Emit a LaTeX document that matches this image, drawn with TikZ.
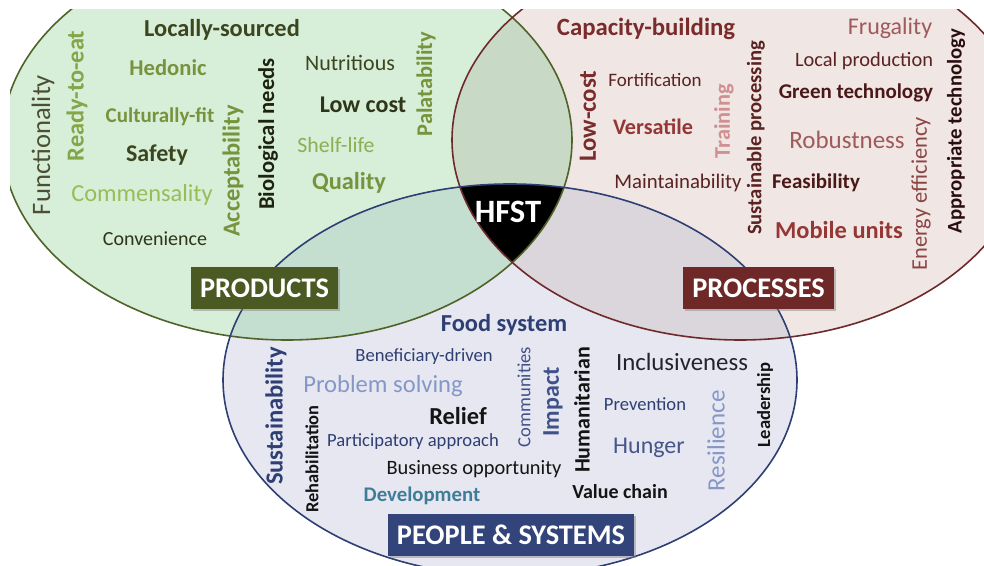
\documentclass[tikz,border=0pt]{standalone}
\usepackage{fontspec}
\setmainfont{Carlito}
\usetikzlibrary{positioning,shadows}

\definecolor{prodfill}{HTML}{D7EED9}
\definecolor{procfill}{HTML}{F0E6E4}
\definecolor{pplfill}{HTML}{E7E7F2}
\definecolor{prodproc}{HTML}{C8D9C5}
\definecolor{prodppl}{HTML}{C4DED0}
\definecolor{procppl}{HTML}{DBD6DB}
\definecolor{prodline}{HTML}{4F6228}
\definecolor{procline}{HTML}{6E2A2A}
\definecolor{pplline}{HTML}{2E3F73}
\definecolor{prodbox}{HTML}{4B5A23}
\definecolor{procbox}{HTML}{6E2828}
\definecolor{pplbox}{HTML}{32447A}
\definecolor{gGray}{HTML}{4B5032}
\definecolor{gDark}{HTML}{3C461E}
\definecolor{gDeep}{HTML}{2E3518}
\definecolor{gBlack}{HTML}{1E230F}
\definecolor{gMid}{HTML}{77933C}
\definecolor{gMidL}{HTML}{86A548}
\definecolor{gLight}{HTML}{9BBB59}
\definecolor{gLightM}{HTML}{8DAE52}
\definecolor{rDark}{HTML}{7A2B2B}
\definecolor{rRed}{HTML}{953735}
\definecolor{rBrown}{HTML}{5A2222}
\definecolor{rDeep}{HTML}{4A1818}
\definecolor{rBlack}{HTML}{2A0E0E}
\definecolor{rRose}{HTML}{A05A5A}
\definecolor{rMuted}{HTML}{8B4545}
\definecolor{rPale}{HTML}{D09090}
\definecolor{bNavy}{HTML}{2E3F73}
\definecolor{bMid}{HTML}{3F5188}
\definecolor{bGray}{HTML}{45558A}
\definecolor{bLight}{HTML}{8497C6}
\definecolor{bTeal}{HTML}{3E7D98}
\definecolor{bBlack}{HTML}{141414}
\definecolor{bInk}{HTML}{23232D}

\newcommand{\fsz}[1]{\fontsize{#1}{#1}\selectfont}
\newcommand{\prodpath}{(287,140) ellipse [x radius=285, y radius=200]}
\newcommand{\procpath}{(740,140) ellipse [x radius=288, y radius=200]}
\newcommand{\pplpath}{(510,380) ellipse [x radius=287, y radius=196]}

\tikzset{
    kw/.style={inner sep=0pt, font=\fsz{#1}},
    kwb/.style={inner sep=0pt, font=\fsz{#1}\bfseries},
    tag/.style={fill=#1, text=white, font=\fsz{14.2}\bfseries, inner xsep=4.5pt,
        minimum height=21pt, drop shadow={shadow xshift=1pt, shadow yshift=-1pt, opacity=0.45}},
}

\begin{document}
\begin{tikzpicture}[x=0.5pt, y=-0.5pt]
    \useasboundingbox (0,0) rectangle (984,566);
    \begin{scope}
        \clip (10,10) rectangle (984,566);
        \fill[prodfill] \prodpath;
        \fill[procfill] \procpath;
        \fill[pplfill] \pplpath;
        \begin{scope}
            \clip \prodpath;
            \fill[prodproc] \procpath;
            \fill[prodppl] \pplpath;
        \end{scope}
        \begin{scope}
            \clip \procpath;
            \fill[procppl] \pplpath;
            \clip \pplpath;
            \fill[black] \prodpath;
        \end{scope}
        \draw[prodline, line width=0.8pt] \prodpath;
        \draw[procline, line width=0.8pt] \procpath;
        \draw[pplline, line width=0.8pt] \pplpath;
    \end{scope}

    \node[text=white, font=\fsz{16.3}\bfseries, inner sep=0pt] (hfst) at (508,212) {HFST};

    \node[kw=13.3, rotate=90, text=gGray] (g1) at (43,145) {Functionality};
    \node[kwb=12.2, rotate=90, text=gMidL] (g2) at (77,96) {Ready-to-eat};
    \node[kwb=12.2, text=gDark] (g3) at (222,30) {Locally-sourced};
    \node[kwb=11.3, text=gMid] (g4) at (168,68) {Hedonic};
    \node[kwb=10.5, text=gMid] (g5) at (160,117) {Culturally-fit};
    \node[kwb=12, text=gDark] (g6) at (157,155) {Safety};
    \node[kw=12.2, text=gLight] (g7) at (142,195) {Commensality};
    \node[kw=10, text=gDeep] (g8) at (155,239) {Convenience};
    \node[kwb=12.2, rotate=90, text=gMid] (g9) at (233,171) {Acceptability};
    \node[kwb=11.3, rotate=90, text=gBlack] (g10) at (268,134) {Biological needs};
    \node[kw=11, text=gDark] (g11) at (350,63) {Nutritious};
    \node[kwb=12, text=gDeep] (g12) at (363,105) {Low cost};
    \node[kw=10.9, text=gLightM] (g13) at (336,145) {Shelf-life};
    \node[kwb=12.2, text=gMid] (g14) at (349,183) {Quality};
    \node[kwb=11.2, rotate=90, text=gMid] (g15) at (426,84) {Palatability};

    \node[kwb=12.4, text=rDark] (r1) at (646,29) {Capacity-building};
    \node[kw=12, text=rRose] (r2) at (890,28) {Frugality};
    \node[kw=10.2, text=rBrown] (r3) at (864,61) {Local production};
    \node[kwb=10.5, text=rDeep] (r4) at (856,93) {Green technology};
    \node[kwb=12.4, rotate=90, text=rDark] (r5) at (588,116) {Low-cost};
    \node[kw=9.5, text=rBrown] (r6) at (655,80) {Fortification};
    \node[kwb=11.1, text=rRed] (r7) at (653,127) {Versatile};
    \node[kwb=11.2, rotate=90, text=rPale] (r8) at (724,121) {Training};
    \node[kwb=10.3, rotate=90, text=rBrown] (r9) at (756,138) {Sustainable processing};
    \node[kw=12.5, text=rRose] (r10) at (847,140) {Robustness};
    \node[kw=10.4, text=rBrown] (r11) at (678,183) {Maintainability};
    \node[kwb=10.5, text=rDeep] (r12) at (816,183) {Feasibility};
    \node[kwb=12.2, text=rRed] (r13) at (839,230) {Mobile units};
    \node[kw=11.2, rotate=90, text=rMuted] (r14) at (921,194) {Energy efficiency};
    \node[kwb=10.4, rotate=90, text=rBlack] (r15) at (956,131) {Appropriate technology};

    \node[kwb=12.2, text=bNavy] (b1) at (504,325) {Food system};
    \node[kw=9.3, text=bNavy] (b2) at (424,357) {Beneficiary-driven};
    \node[kw=12.3, text=bLight] (b3) at (383,386) {Problem solving};
    \node[kwb=12.3, rotate=90, text=bNavy] (b4) at (276,416) {Sustainability};
    \node[kwb=9.2, rotate=90, text=bBlack] (b5) at (312,459) {Rehabilitation};
    \node[kwb=12.2, text=bBlack] (b6) at (458,416) {Relief};
    \node[kw=9.3, text=bNavy] (b7) at (413,442) {Participatory approach};
    \node[kw=10.2, text=bBlack] (b8) at (474,469) {Business opportunity};
    \node[kwb=10.4, text=bTeal] (b9) at (422,496) {Development};
    \node[kw=9.3, rotate=90, text=bMid] (b10) at (524,397) {Communities};
    \node[kwb=12, rotate=90, text=bMid] (b11) at (553,402) {Impact};
    \node[kwb=11, rotate=90, text=bBlack] (b12) at (582,410) {Humanitarian};
    \node[kw=12.4, text=bInk] (b13) at (682,362) {Inclusiveness};
    \node[kw=9.3, text=bNavy] (b14) at (645,404) {Prevention};
    \node[kw=12, text=bGray] (b15) at (649,448) {Hunger};
    \node[kwb=10, text=bBlack] (b16) at (620,492) {Value chain};
    \node[kw=12.5, rotate=90, text=bLight] (b17) at (716,441) {Resilience};
    \node[kwb=9.3, rotate=90, text=bBlack] (b18) at (765,405) {Leadership};

    \node[tag=prodbox] (prod) at (264.5,288.5) {PRODUCTS};
    \node[tag=procbox] (proc) at (758.5,288.5) {PROCESSES};
    \node[tag=pplbox] (ppl) at (511,535) {PEOPLE \& SYSTEMS};
\end{tikzpicture}
\end{document}
